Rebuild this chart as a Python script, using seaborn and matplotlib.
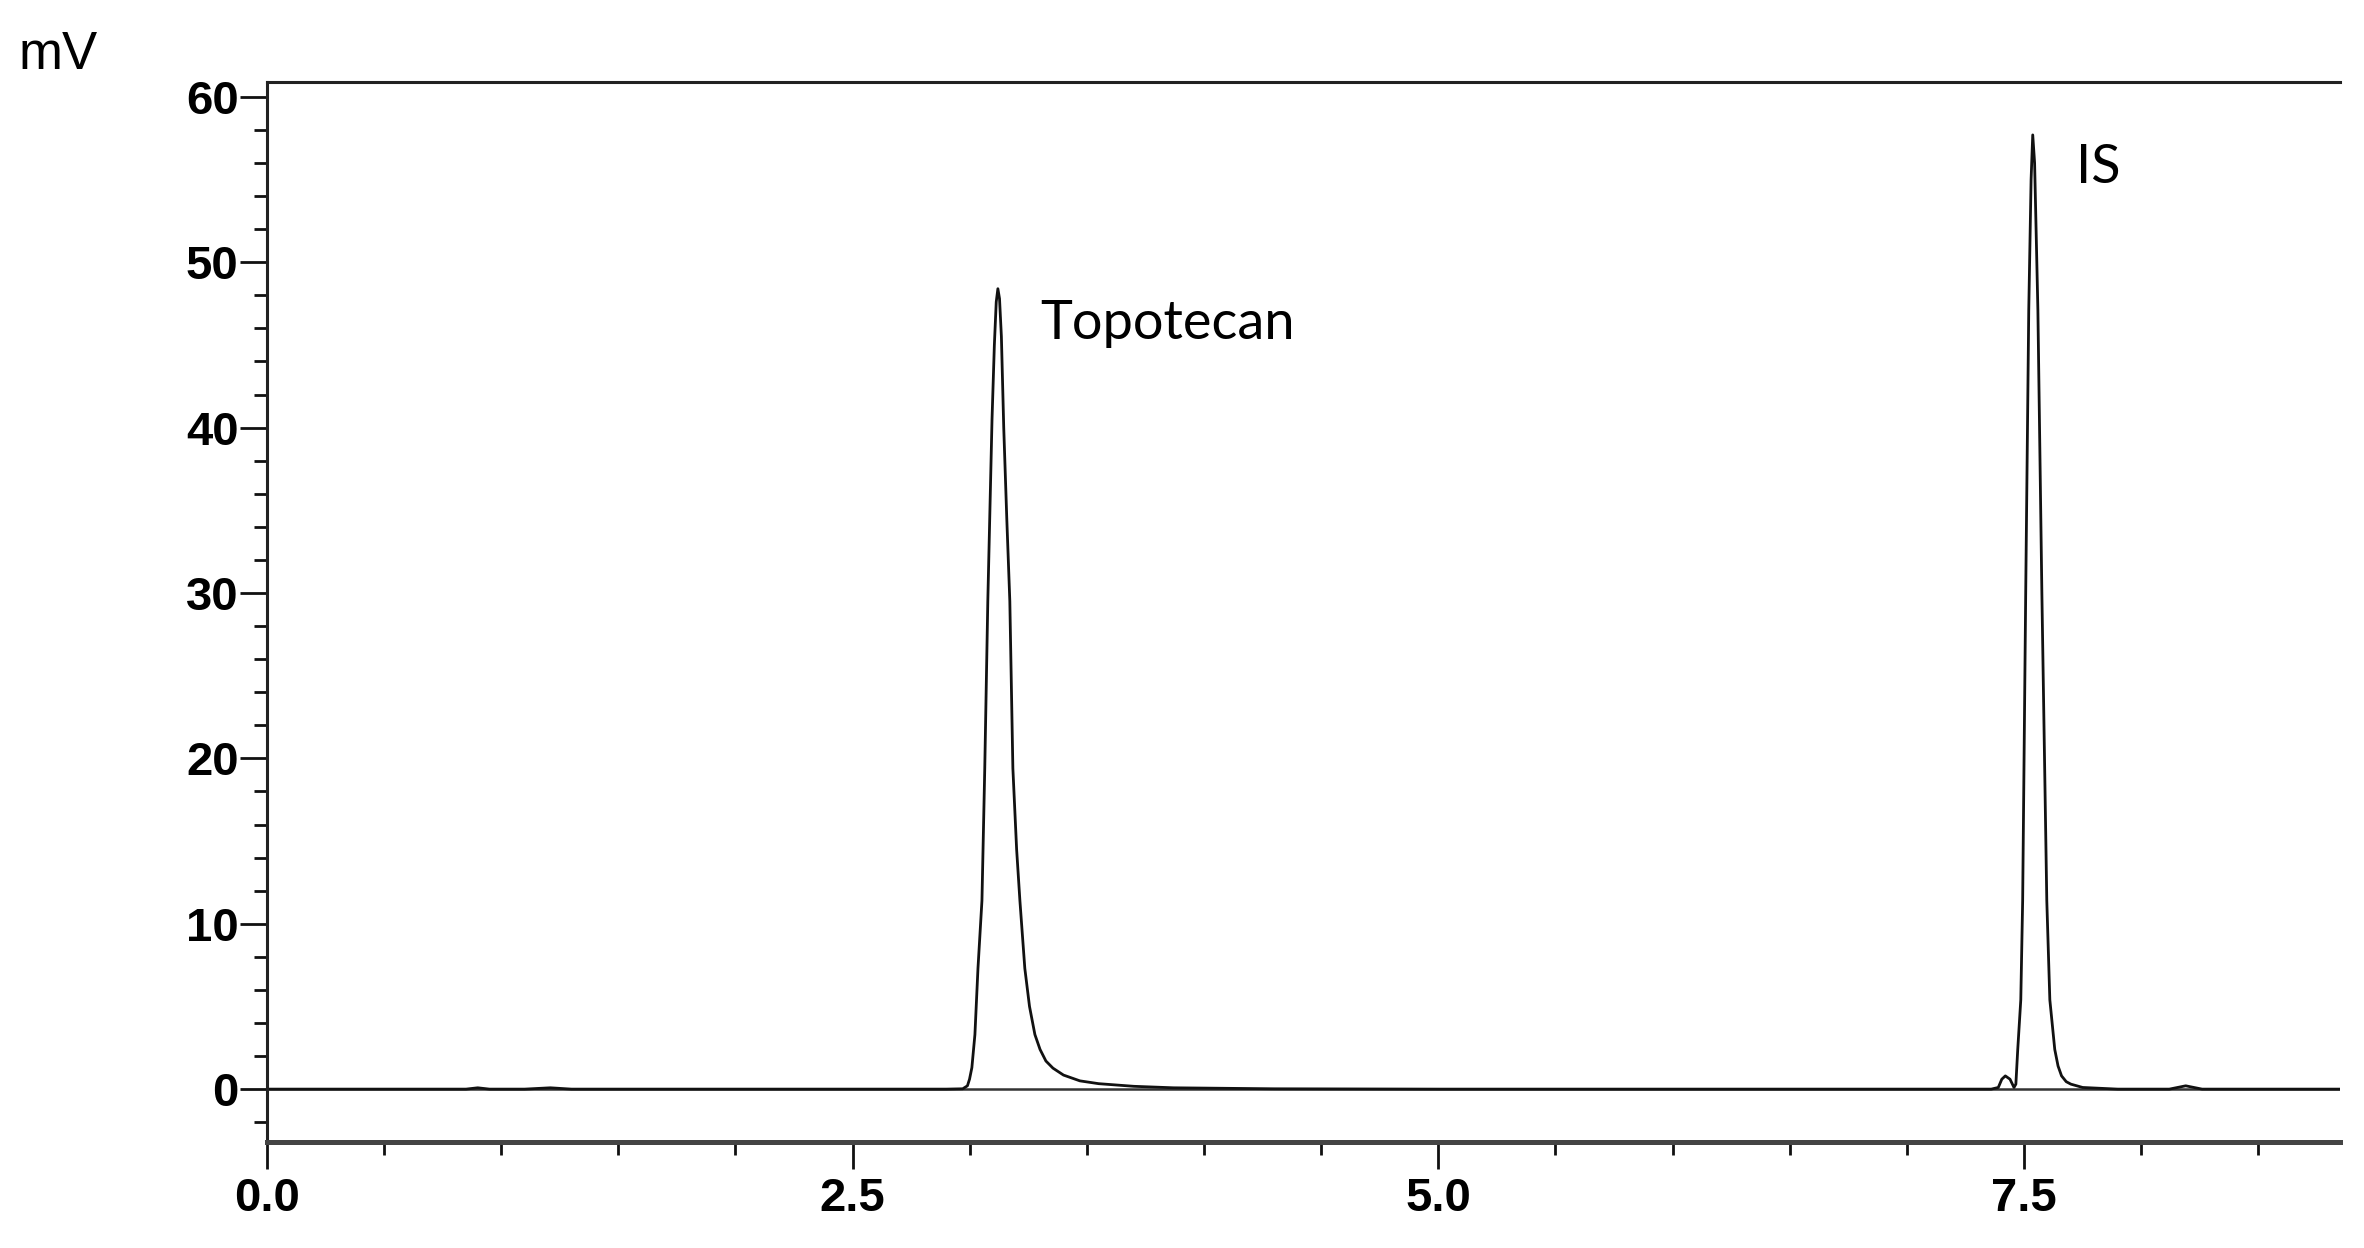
import numpy as np
import pandas as pd
import matplotlib
matplotlib.use('Agg')
import matplotlib.pyplot as plt
from matplotlib.ticker import MultipleLocator
import seaborn as sns

# Chromatogram trace (time in min, signal in mV)
time_min = [0.0, 0.85, 0.9, 0.95, 1.1, 1.21, 1.3, 1.5, 2.9, 2.97, 2.99,
            2.999, 3.009, 3.022, 3.035, 3.052, 3.064, 3.077, 3.095, 3.105,
            3.113, 3.12, 3.127, 3.135, 3.145, 3.158, 3.171, 3.184, 3.2,
            3.214, 3.235, 3.255, 3.278, 3.30, 3.325, 3.355, 3.40, 3.47,
            3.55, 3.7, 3.87, 4.3, 5.0, 7.0, 7.36, 7.39, 7.405, 7.42, 7.44,
            7.457, 7.465, 7.473, 7.486, 7.494, 7.507, 7.52, 7.53, 7.537,
            7.545, 7.559, 7.576, 7.597, 7.61, 7.631, 7.645, 7.66, 7.68, 7.7,
            7.75, 7.9, 8.12, 8.19, 8.26, 8.848]
signal_mv = [0.0, 0.0, 0.08, 0.0, 0.0, 0.08, 0.0, 0.0, 0.0, 0.02, 0.2,
             0.6, 1.3, 3.3, 7.3, 11.4, 19.4, 29.5, 40.5, 45.0,
             47.6, 48.4, 47.8, 45.5, 40.0, 34.5, 29.5, 19.4, 14.5,
             11.4, 7.3, 5.0, 3.3, 2.4, 1.7, 1.27, 0.85, 0.5,
             0.33, 0.17, 0.08, 0.02, 0.0, 0.0, 0.0, 0.1, 0.6, 0.8, 0.6,
             0.1, 0.3, 2.4, 5.4, 11.4, 30.0, 47.1, 55.0, 57.7,
             56.0, 47.1, 30.0, 11.4, 5.4, 2.4, 1.4, 0.8, 0.45, 0.3,
             0.1, 0.0, 0.0, 0.2, 0.0, 0.0]

peak_names = ['Topotecan', 'IS']
peak_label_x = [3.30, 7.72]
peak_label_y = [46.3, 55.7]

df = pd.DataFrame({'time': time_min, 'signal': signal_mv})

sns.set_theme(style='white')
plt.rcParams['font.family'] = ['Liberation Sans', 'DejaVu Sans']

fig = plt.figure(figsize=(11.82, 6.24), dpi=200)
ax = fig.add_axes([0.1129, 0.0849, 0.8769, 0.8494])

ax.axhline(0, color='#333333', lw=0.9, zorder=1)
sns.lineplot(data=df, x='time', y='signal', ax=ax, color='#111111', lw=1.0,
             estimator=None, sort=False, zorder=2)

ax.set_xlim(0, 8.848)
ax.set_ylim(-3.2, 60.9)
ax.set_xlabel('')
ax.set_ylabel('')

ax.xaxis.set_major_locator(MultipleLocator(2.5))
ax.xaxis.set_minor_locator(MultipleLocator(0.5))
ax.yaxis.set_major_locator(MultipleLocator(10))
ax.yaxis.set_minor_locator(MultipleLocator(2))
ax.set_xticks([0, 2.5, 5.0, 7.5])
ax.set_xticklabels(['0.0', '2.5', '5.0', '7.5'])

ax.tick_params(axis='both', which='both', direction='out', color='#111111',
               bottom=True, left=True, top=False, right=False)
ax.tick_params(axis='y', which='major', length=9.7, width=1.0, pad=0.5,
               labelsize=17)
ax.tick_params(axis='y', which='minor', length=4.8, width=1.0)
ax.tick_params(axis='x', which='major', length=9.7, width=1.0, pad=3,
               labelsize=17)
ax.tick_params(axis='x', which='minor', length=4.8, width=1.0)
for lab in ax.get_xticklabels() + ax.get_yticklabels():
    lab.set_fontweight('bold')
    lab.set_color('black')

ax.spines['right'].set_visible(False)
ax.spines['left'].set_color('#222222')
ax.spines['left'].set_linewidth(1.1)
ax.spines['top'].set_color('#222222')
ax.spines['top'].set_linewidth(1.1)
ax.spines['bottom'].set_color('#444444')
ax.spines['bottom'].set_linewidth(1.8)

for name, x, y in zip(peak_names, peak_label_x, peak_label_y):
    ax.text(x, y, name, fontsize=19.5, ha='left', va='center', color='black',
            family=['Lato', 'DejaVu Sans'])

fig.text(0.0245, 0.956, 'mV', fontsize=19, ha='center', va='center',
         color='black')

fig.savefig('out.png', dpi=200, facecolor='white')
